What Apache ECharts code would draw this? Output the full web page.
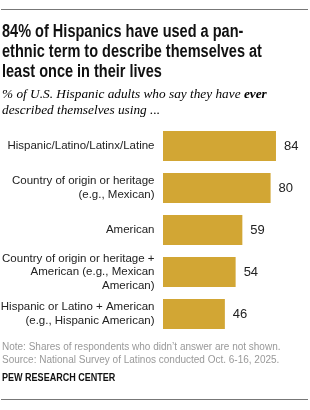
<!DOCTYPE html>
<html><head><meta charset="utf-8">
<script src="https://cdn.jsdelivr.net/npm/echarts@6/dist/echarts.min.js"></script>
<style>html,body{margin:0;padding:0;background:#fff}#c{width:310px;height:410px}</style>
</head><body><div id="c"></div>
<script>
const categories = [
  "Hispanic/Latino/Latinx/Latine",
  "Country of origin or heritage\n(e.g., Mexican)",
  "American",
  "Country of origin or heritage +\nAmerican (e.g., Mexican\nAmerican)",
  "Hispanic or Latino + American\n(e.g., Hispanic American)"
];
const values = [84, 80, 59, 54, 46];
const titleLines = ["84% of Hispanics have used a pan-", "ethnic term to describe themselves at", "least once in their lives"];
const subtitleText = "{i|% of U.S. Hispanic adults who say they have }{b|ever}\n{i|described themselves using ...}";
const noteLines = ["Note: Shares of respondents who didn\u2019t answer are not shown.", "Source: National Survey of Latinos conducted Oct. 6-16, 2025."];
const sourceLabel = "PEW RESEARCH CENTER";

const chart = echarts.init(document.getElementById('c'), null, {renderer: 'canvas'});
const sans = "'Liberation Sans', Arial, sans-serif";
const serif = "'Liberation Serif', 'DejaVu Serif', Georgia, serif";
chart.setOption({
  animation: false,
  backgroundColor: '#fff',
  graphic: [
    {type: 'line', shape: {x1: 1, y1: 9.5, x2: 308, y2: 9.5}, style: {stroke: '#777', lineWidth: 1}},
    {type: 'text', x: 2, y: 22, scaleX: 0.83, style: {text: titleLines.join('\n'), font: "bold 17.5px " + sans, lineHeight: 20, fill: '#111'}},
    {type: 'text', x: 2, y: 87, style: {text: subtitleText, rich: {
      i: {fontFamily: serif, fontStyle: 'italic', fontSize: 13.3, color: '#666', lineHeight: 16},
      b: {fontFamily: serif, fontStyle: 'italic', fontWeight: 'bold', fontSize: 13.3, color: '#555', lineHeight: 16}
    }}},
    {type: 'text', x: 2, y: 340, style: {text: noteLines.join('\n'), font: "10px " + sans, lineHeight: 13.5, fill: '#999'}},
    {type: 'text', x: 2, y: 373, scaleX: 0.86, style: {text: sourceLabel, font: "bold 10.5px " + sans, fill: '#111'}},
    {type: 'line', shape: {x1: 1, y1: 399.5, x2: 308, y2: 399.5}, style: {stroke: '#777', lineWidth: 1}}
  ],
  grid: {left: 163, right: 12.5, top: 125, height: 210, containLabel: false, outerBoundsMode: 'none'},
  xAxis: {type: 'value', min: 0, max: 100, show: false},
  yAxis: {
    type: 'category', data: categories, inverse: true,
    axisLine: {show: false}, axisTick: {show: false},
    axisLabel: {margin: 8.5, fontFamily: sans, fontSize: 11.5, color: '#222', lineHeight: 13.5, align: 'right'}
  },
  series: [{
    type: 'bar', data: values, barWidth: 30,
    itemStyle: {color: '#D2A634'},
    label: {show: true, position: 'right', distance: 8, fontFamily: sans, fontSize: 13, color: '#222'}
  }]
});
</script></body></html>
